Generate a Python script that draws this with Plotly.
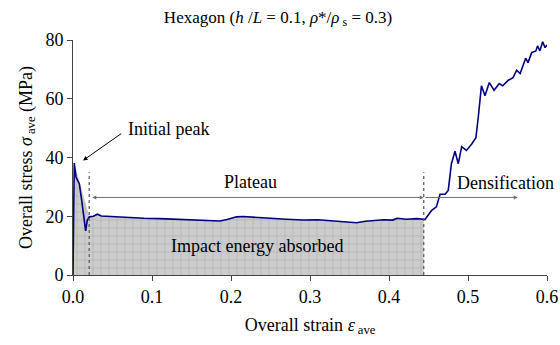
import plotly.graph_objects as go

# ---- data (strain, stress in MPa) ----
strain = [0.0, 0.0016, 0.0038, 0.008, 0.011, 0.0143, 0.016, 0.018, 0.0207, 0.0257, 0.0308, 0.036,
          0.05, 0.068, 0.09, 0.11, 0.13, 0.148, 0.165, 0.186, 0.195, 0.207, 0.215, 0.224, 0.2325,
          0.25, 0.27, 0.291, 0.31, 0.33, 0.345, 0.359, 0.37, 0.385, 0.393, 0.405, 0.41, 0.422,
          0.435, 0.444,
          0.4456, 0.454, 0.460, 0.4646, 0.471, 0.475, 0.479, 0.4835, 0.4877, 0.492, 0.498, 0.5047,
          0.510, 0.513, 0.517, 0.5215, 0.527, 0.533, 0.5396, 0.544, 0.551, 0.557, 0.5616, 0.566,
          0.573, 0.576, 0.5806, 0.586, 0.588, 0.591, 0.5945, 0.5975, 0.600]
stress = [0.0, 38.1, 33.3, 31.1, 25.4, 18.6, 15.0, 18.6, 19.8, 20.0, 20.7, 20.1,
          19.9, 19.5, 19.3, 19.2, 19.0, 18.9, 18.6, 18.4, 18.9, 19.8, 19.9, 19.8, 19.6,
          19.3, 19.0, 18.7, 18.8, 18.4, 18.3, 17.8, 18.3, 18.5, 18.8, 18.7, 19.3, 19.0,
          19.2, 19.0,
          18.9, 22.0, 23.2, 27.5, 27.5, 28.8, 37.9, 42.1, 37.9, 43.7, 42.4, 44.6,
          46.7, 53.7, 64.4, 61.0, 65.5, 62.9, 65.2, 64.4, 66.3, 67.2, 69.7, 68.6,
          73.8, 72.3, 75.7, 76.3, 78.0, 76.3, 79.4, 77.4, 78.3]

# boundary of the shaded "impact energy absorbed" area
plateau_start = 0.0205
densification_start = 0.444
fill_idx = [0, 1, 8] + [i for i, x in enumerate(strain) if 0.0207 < x <= densification_start]
fill_x = [strain[i] for i in fill_idx]
fill_y = [stress[i] for i in fill_idx]

x_ticks = [0.0, 0.1, 0.2, 0.3, 0.4, 0.5, 0.6]
y_ticks = [0, 20, 40, 60, 80]

FONT = "Times New Roman, Liberation Serif, DejaVu Serif, serif"

fig = go.Figure()
fig.add_trace(go.Scatter(
    x=fill_x, y=fill_y, mode="lines", line=dict(width=0),
    fill="tozeroy", fillcolor="#cccccc",
    fillpattern=dict(shape="+", size=8, solidity=0.12, fgcolor="#8a8a8a", bgcolor="#cccccc"),
    hoverinfo="skip", showlegend=False))
fig.add_trace(go.Scatter(
    x=strain, y=stress, mode="lines", line=dict(color="#000080", width=1.6),
    showlegend=False))

# dashed vertical markers
dash_top = 35
for xv in (plateau_start, densification_start):
    fig.add_shape(type="line", x0=xv, x1=xv, y0=0, y1=dash_top, xref="x", yref="y",
                  line=dict(color="#555555", width=1.2, dash="dot"))

arrow_y = 26.4
# Plateau double arrow
fig.add_annotation(x=densification_start, y=arrow_y, ax=plateau_start + 0.002, ay=arrow_y,
                   xref="x", yref="y", axref="x", ayref="y", text="", showarrow=True,
                   arrowhead=2, startarrowhead=2, arrowside="end+start", arrowsize=0.8,
                   startarrowsize=0.8, arrowwidth=1, arrowcolor="#6e6e6e")
# Densification arrow
fig.add_annotation(x=0.563, y=arrow_y, ax=densification_start, ay=arrow_y,
                   xref="x", yref="y", axref="x", ayref="y", text="", showarrow=True,
                   arrowhead=2, arrowsize=0.8, arrowwidth=1, arrowcolor="#6e6e6e")
# Initial peak arrow
fig.add_annotation(x=0.0127, y=39, ax=0.063, ay=48.5,
                   xref="x", yref="y", axref="x", ayref="y", text="", showarrow=True,
                   arrowhead=2, arrowsize=0.9, arrowwidth=1, arrowcolor="black")

txt = dict(family=FONT, size=18, color="black")
fig.add_annotation(x=0.067, y=49.8, text="Initial peak", showarrow=False,
                   xanchor="left", yanchor="middle", font=txt)
fig.add_annotation(x=0.225, y=31.5, text="Plateau", showarrow=False,
                   xanchor="center", yanchor="middle", font=txt)
fig.add_annotation(x=0.4835, y=31.2, text="Densification", showarrow=False,
                   xanchor="left", yanchor="middle", font=txt)
fig.add_annotation(x=0.2335, y=9.8, text="Impact energy absorbed", showarrow=False,
                   xanchor="center", yanchor="middle", font=txt)

fig.update_layout(
    width=560, height=345,
    margin=dict(l=73, r=13, t=40, b=70),
    paper_bgcolor="white", plot_bgcolor="white",
    font=dict(family=FONT, size=18, color="black"),
    title=dict(text="Hexagon (<i>h</i> /<i>L</i> = 0.1, <i>ρ</i>*/<i>ρ</i><sub> s</sub> = 0.3)",
               x=278 / 560, xanchor="center", y=0.951, yanchor="middle",
               font=dict(family=FONT, size=17)),
    xaxis=dict(range=[0, 0.6], tickvals=x_ticks, ticktext=[f"{v:.1f}" for v in x_ticks],
               showgrid=False, zeroline=False, showline=True, linecolor="#444444", linewidth=1,
               ticks="outside", ticklen=5, tickcolor="#444444", automargin=False,
               tickfont=dict(family=FONT, size=18),
               title=dict(text="Overall strain <i>ε</i><sub> ave</sub>", standoff=12,
                          font=dict(family=FONT, size=18))),
    yaxis=dict(range=[0, 80], tickvals=y_ticks, showgrid=False, zeroline=False,
               showline=True, linecolor="#444444", linewidth=1, automargin=False,
               ticks="outside", ticklen=5, tickcolor="#444444",
               tickfont=dict(family=FONT, size=18),
               title=dict(text="Overall stress <i>σ</i><sub> ave</sub> (MPa)", standoff=8,
                          font=dict(family=FONT, size=18))),
)

fig.write_html("out.html")
